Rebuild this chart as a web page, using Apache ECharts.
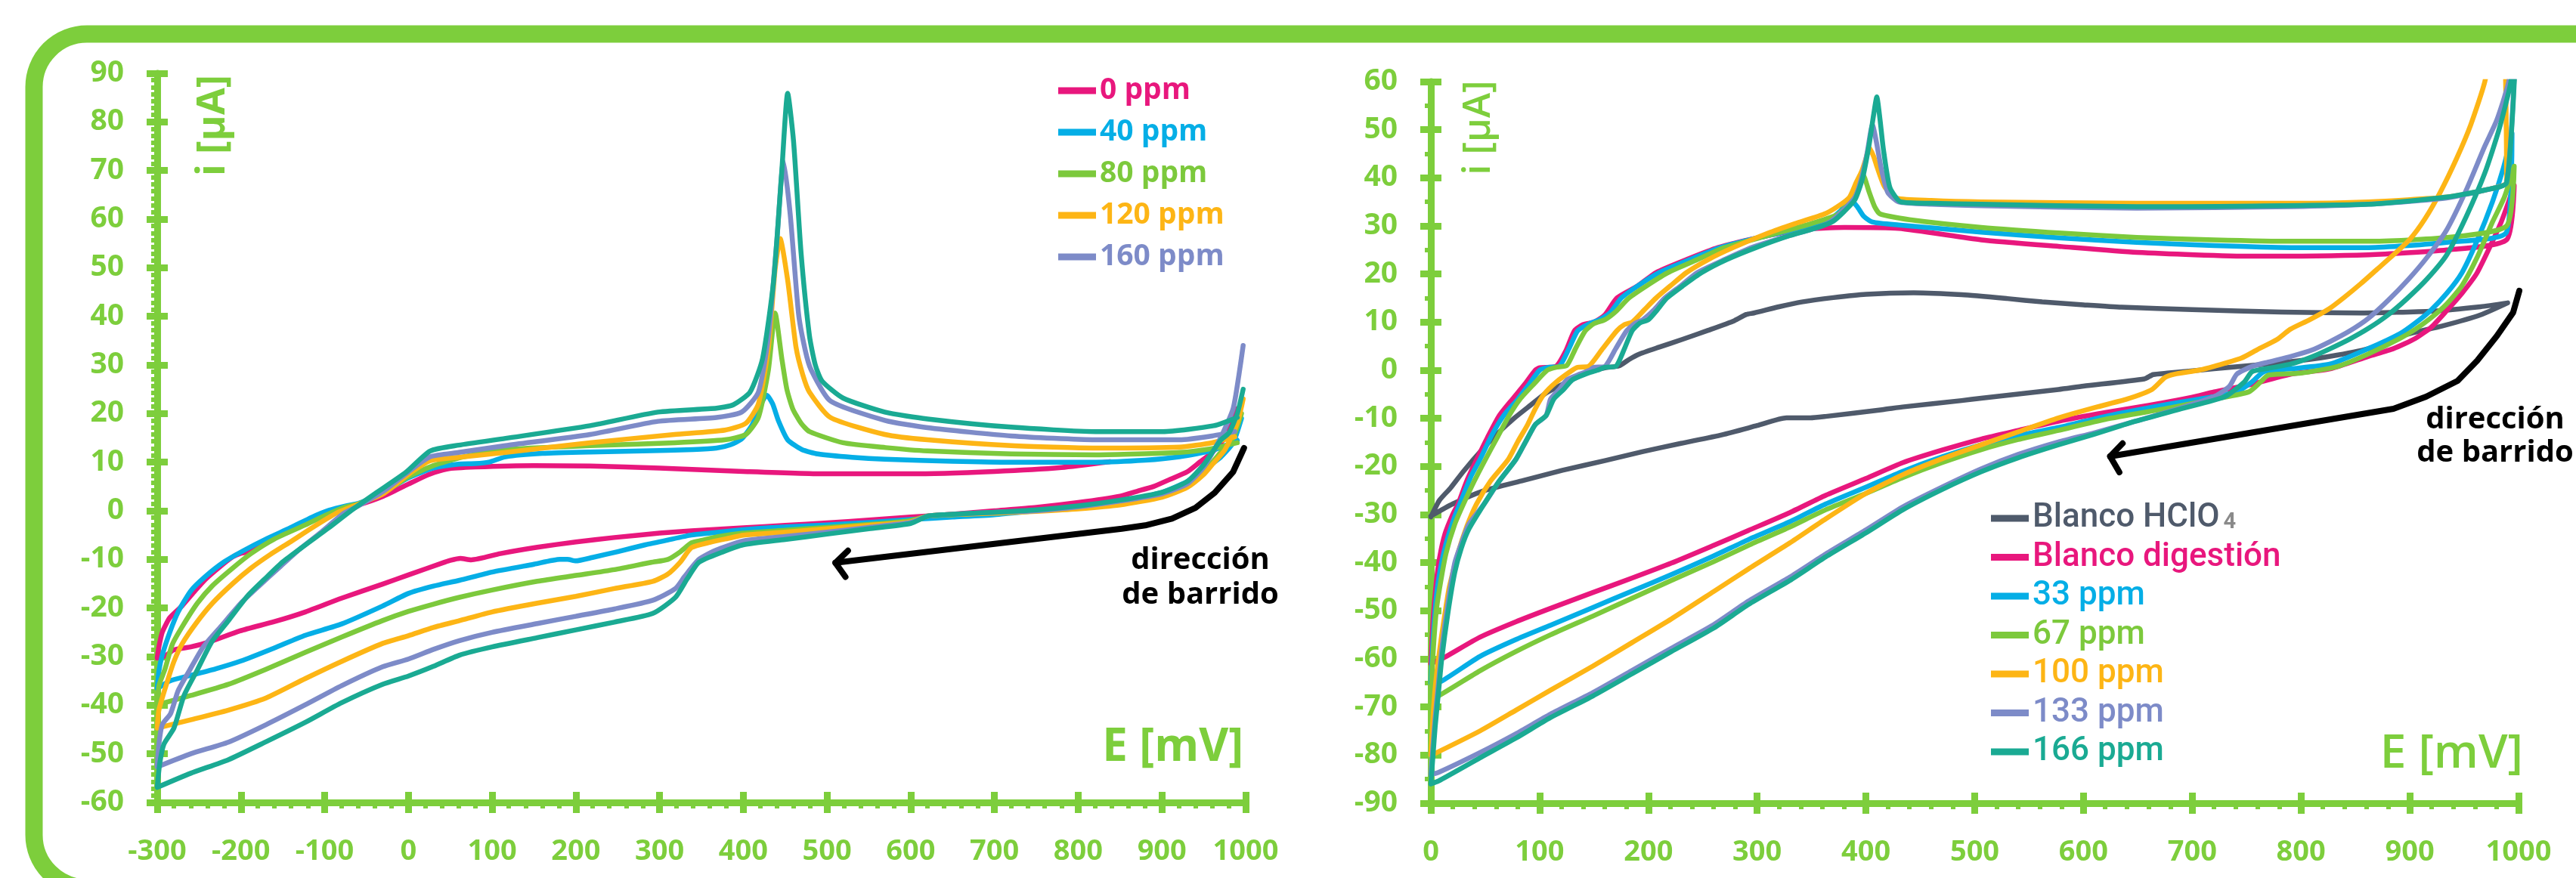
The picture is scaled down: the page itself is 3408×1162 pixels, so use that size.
<!DOCTYPE html>
<html>
<head>
<meta charset="utf-8">
<script src="https://cdn.jsdelivr.net/npm/echarts@6/dist/echarts.min.js"></script>
<style>
html, body { margin: 0; padding: 0; background: #fff; }
#main { width: 3408px; height: 1162px; }
</style>
</head>
<body>
<div id="main"></div>
<script>
// ---------- datos (E [mV], i [µA]) ----------
// grafico izquierdo: barrido inverso (1000 -> -300) y luego directo (-300 -> 1000)
const cv0ppm = [[990,21],[975,15],[960,12],[945,10],[930,8],[910,6.5],[890,5],[870,4],[850,3],[800,1.7],[750,0.7],[700,0],[650,-0.7],[600,-1.3],[550,-1.9],[500,-2.5],[450,-3],[400,-3.5],[338,-4.1],[300,-4.6],[246,-5.5],[200,-6.4],[154,-7.5],[110,-8.8],[75,-10.1],[62,-9.8],[50,-10.2],[43,-10.6],[0,-13.2],[-31,-15.1],[-80,-18],[-123,-20.8],[-160,-22.8],[-201,-24.7],[-238,-27],[-260,-28],[-280,-28.6],[-290,-29.8],[-300,-30.3],
  [-298,-28],[-294,-25],[-285,-22],[-270,-19.5],[-255,-16.5],[-243,-14.2],[-225,-11.5],[-210,-9.5],[-201,-8.8],[-190,-8.4],[-170,-6.5],[-141,-4.1],[-115,-2],[-90,-0.2],[-75,0.7],[-60,1.2],[-30,3],[0,5.5],[25,7.5],[46,8.6],[80,9],[150,9.3],[217,9.2],[300,8.8],[400,8.1],[500,7.6],[600,7.6],[700,8.1],[780,8.9],[838,10.1]];
const cv40ppm = [[995,19],[985,14],[970,11],[950,8.5],[930,6],[900,3.8],[870,2.6],[850,2],[800,0.8],[750,0],[700,-0.8],[650,-1.3],[600,-1.8],[550,-2.4],[500,-2.9],[430,-3.5],[400,-3.9],[360,-4.6],[338,-5],[310,-6],[283,-7],[250,-8.4],[220,-9.6],[200,-10.3],[190,-10],[181,-10],[150,-11],[100,-12.6],[61,-14.3],[30,-15.5],[0,-17],[-31,-19.6],[-80,-23.3],[-123,-25.6],[-160,-28.2],[-200,-30.9],[-230,-32.5],[-261,-33.9],[-285,-35],[-300,-36.6],
  [-298,-33],[-294,-29.7],[-285,-25],[-275,-20.8],[-260,-16.5],[-243,-13.6],[-220,-10.5],[-197,-8.2],[-170,-5.8],[-141,-3.5],[-115,-1.3],[-95,0.1],[-75,1],[-60,1.5],[-30,3.8],[0,6.8],[30,8.8],[60,9.6],[80,9.7],[96,10],[116,11.1],[160,11.8],[217,12.1],[280,12.3],[340,12.6],[368,12.9],[385,13.6],[398,14.8],[410,17.5],[420,21.5],[428,23.8],[435,22],[442,18.5],[453,14.6],[470,12.6],[489,11.7],[530,11],[569,10.6],[650,10.2],[720,10],[821,10],[880,10.4],[921,11.1],[960,12.4],[990,14.5]];
const cv80ppm = [[995,20],[985,15],[970,12],[950,8],[930,5.5],[900,3.3],[850,1.6],[800,0.6],[750,0],[700,-0.4],[640,-0.9],[620,-1.1],[600,-2],[550,-2.8],[500,-3.4],[450,-4],[400,-4.6],[370,-5.3],[350,-6.1],[338,-6.6],[325,-8.4],[310,-10],[290,-10.6],[246,-12.1],[200,-13.3],[154,-14.5],[100,-16.3],[61,-17.8],[30,-19.2],[0,-20.7],[-31,-22.6],[-80,-26],[-123,-29.1],[-170,-32.6],[-215,-35.7],[-260,-38],[-300,-39.9],
  [-298,-36],[-291,-32.7],[-282,-27.5],[-270,-23.8],[-252,-19],[-234,-15.4],[-210,-11.8],[-188,-8.8],[-160,-5.8],[-123,-2.9],[-100,-1],[-75,0.8],[-60,1.4],[-30,3.6],[0,7],[30,9.3],[66,11.1],[116,12.6],[217,13.4],[318,14],[378,14.6],[403,15.7],[418,19.2],[430,29],[438,40.7],[446,31.3],[452,25],[459,21],[469,18],[479,16.3],[519,14],[570,13],[620,12.3],[720,11.7],[821,11.5],[921,12],[960,12.8],[990,14]];
const cv120ppm = [[997,23],[990,18],[975,12.5],[960,9.5],[950,7.5],[930,4.8],[900,2.8],[850,1.2],[800,0.4],[750,-0.1],[700,-0.5],[640,-0.8],[620,-1.1],[600,-2.3],[550,-3],[500,-3.7],[450,-4.4],[400,-5],[384,-5.6],[360,-6.5],[338,-7.6],[325,-10.5],[310,-13],[292,-14.5],[246,-16],[200,-17.6],[154,-19],[100,-20.8],[61,-22.6],[30,-24],[0,-25.7],[-31,-27.3],[-80,-31],[-123,-34.5],[-170,-38.5],[-215,-41],[-260,-43],[-300,-44.7],
  [-298,-41],[-289,-35.7],[-280,-31],[-270,-27.3],[-253,-23],[-234,-19],[-210,-15],[-188,-11.8],[-165,-9],[-141,-6.4],[-115,-3.5],[-86,-0.5],[-65,1],[-30,3.5],[0,7.5],[26,10.3],[60,11],[116,12],[217,14],[318,15.7],[378,16.6],[403,18],[418,22],[430,33.6],[438,49.7],[444,56],[453,47.4],[463,33.6],[471,28],[479,24.4],[504,19.2],[569,15.7],[620,14.6],[720,13.4],[821,12.9],[921,13.1],[960,14],[987,15.2]];
const cv160ppm = [[997,34],[992,28],[985,21],[970,15],[950,9],[930,5.5],[900,3.5],[850,2],[800,0.8],[750,0],[700,-0.3],[640,-0.8],[620,-1.1],[600,-2.4],[550,-3.4],[500,-4.4],[450,-5.3],[400,-6.2],[366,-8.2],[347,-10],[330,-13.5],[319,-16],[292,-18.4],[246,-20.2],[200,-21.7],[154,-23.2],[100,-25],[61,-26.7],[30,-28.5],[0,-30.5],[-31,-32.1],[-80,-36],[-123,-39.9],[-170,-44],[-215,-47.6],[-260,-50],[-300,-52.7],
  [-298,-48],[-294,-44],[-284,-41.7],[-275,-37],[-261,-32.7],[-245,-28],[-224,-23.8],[-200,-19],[-178,-15.4],[-155,-11.8],[-132,-8.2],[-105,-4.5],[-77,-0.5],[-60,1],[-30,4],[0,8],[26,11.1],[60,12],[116,13.4],[217,15.7],[298,18.4],[368,19.2],[398,20.3],[418,24.4],[430,35.9],[440,55.4],[448,72],[456,61],[466,40.5],[474,33],[481,29],[504,22.6],[569,18.6],[620,17.1],[720,15.4],[821,14.6],[921,14.6],[960,15.4],[987,16.3]];
const cvSerie6 = [[997,25],[990,20],[980,16],[970,14.5],[950,9.5],[930,6],[900,3.8],[850,2.2],[800,1],[750,0.2],[700,-0.3],[640,-0.8],[620,-1.1],[600,-2.6],[550,-3.7],[500,-4.8],[450,-5.9],[400,-7],[375,-8.5],[347,-10.6],[333,-14],[319,-17.8],[292,-21.1],[246,-22.9],[200,-24.5],[154,-26.1],[100,-28],[61,-29.7],[30,-32],[0,-34],[-31,-35.7],[-80,-39.5],[-123,-43.5],[-170,-47.5],[-215,-51.2],[-260,-54],[-300,-56.9],
  [-297,-52],[-292,-48],[-280,-44.7],[-268,-38],[-252,-32.7],[-235,-27],[-215,-22.6],[-192,-17.5],[-169,-13.6],[-150,-10.5],[-140,-9.2],[-123,-7],[-95,-3.5],[-68,0.1],[-40,3.5],[-3,7.9],[26,12.3],[60,13.5],[116,14.9],[217,17.5],[298,20.3],[368,21.1],[388,21.8],[408,24.4],[423,31.3],[436,47],[446,70],[453,85.9],[460,76],[469,53],[479,36],[486,30],[494,26.7],[519,23.2],[569,20.3],[620,18.9],[720,17.2],[821,16.3],[901,16.3],[962,17.5],[990,19.2]];

// grafico derecho: barrido directo (0 -> 1000) y luego inverso (1000 -> 0)
const blancoHClO4 = [[0,-30.5],[8,-27],[18,-24.5],[30,-21],[48,-16.3],[62,-13],[77,-9.9],[92,-7.2],[106,-4.7],[125,-2.5],[143,-0.6],[160,0.5],[173,0.9],[182,2.2],[191,3.3],[210,4.8],[231,6.4],[255,8.3],[279,10.3],[290,11.6],[297,11.9],[320,13.2],[341,14.2],[370,15.1],[400,15.8],[444,16.1],[488,15.7],[530,14.9],[562,14.2],[600,13.6],[635,13.1],[700,12.6],[782,12.1],[855,11.9],[921,12.3],[965,13.2],[990,14],
  [965,11.5],[930,9.2],[891,7.1],[862,4.5],[827,2.9],[791,1.8],[720,0.3],[677,-0.6],[664,-0.9],[656,-1.8],[600,-3.3],[577,-4],[506,-5.8],[488,-6.3],[435,-7.6],[415,-8.2],[363,-9.6],[349,-9.9],[327,-9.9],[300,-11.5],[268,-13.4],[230,-15.2],[195,-16.9],[160,-18.8],[121,-20.8],[85,-22.9],[48,-25.1],[20,-27.8],[0,-30.3]];
const blancoDigestion = [[0,-61],[2,-52],[5,-44],[8,-39],[13,-34],[20,-30],[25,-27.8],[33,-23],[42,-18.6],[52,-14],[63,-9.4],[75,-6],[86,-3],[96,0],[100,0.5],[115,0.8],[124,4],[132,8.2],[140,9.5],[150,10],[160,11.5],[171,15],[190,17.5],[207,20.3],[235,23],[264,25.5],[300,27.5],[340,29.2],[380,29.7],[430,29.5],[506,27.1],[580,25.7],[649,24.5],[755,23.7],[862,24],[934,25],[989,27.1],
  [996,38.4],[984,30.8],[962,20.3],[948,16],[934,12.4],[920,9],[905,6.6],[885,4.5],[862,2.9],[827,0.3],[791,-0.8],[755,-2.9],[720,-4.5],[700,-5.6],[660,-7.3],[620,-8.8],[577,-10.6],[540,-12.5],[506,-14.3],[470,-16.6],[434,-19.2],[400,-22.5],[363,-26],[330,-29.6],[292,-33.3],[260,-36.4],[221,-40.1],[185,-43.2],[149,-46.2],[110,-49.5],[78,-52.3],[45,-55.5],[14,-59.5],[5,-60.5],[0,-61]];
const cv33ppm = [[0,-65],[2,-56],[5,-47],[9,-41],[14,-36],[21,-31],[28,-27],[37,-22],[45,-18.6],[56,-13.5],[67,-9.4],[80,-6],[90,-3],[100,0],[108,0.6],[118,0.8],[127,4.5],[135,8.2],[145,9.6],[155,10.5],[165,12],[175,15],[192,17.8],[210,20.3],[238,23],[266,25.5],[300,27.5],[340,29.5],[365,31],[376,33],[386,35.4],[392,34],[398,32],[406,30.8],[430,30.2],[506,28.7],[580,27.5],[649,26.6],[720,25.9],[791,25.5],[862,25.5],[934,26.6],[989,28.7],
  [994,49.2],[986,42],[976,35],[962,27],[948,20.3],[934,16],[919,12.4],[905,9.8],[891,7.6],[862,4.5],[827,1.3],[791,0.3],[766,-0.3],[755,-2.4],[741,-4.5],[720,-5.5],[680,-7],[620,-9.6],[577,-11.9],[540,-13.6],[506,-15.5],[470,-18],[434,-21],[400,-24.3],[363,-27.8],[330,-31.5],[292,-35.2],[260,-38.6],[221,-42.5],[185,-45.9],[149,-49.3],[110,-53],[78,-56],[45,-59.5],[10,-64.6],[0,-65]];
const cv67ppm = [[0,-68],[2,-59],[5,-50],[9,-44],[14,-38],[22,-32],[30,-27.8],[40,-23],[50,-18.6],[61,-14],[72,-9.4],[82,-6],[95,-2.8],[107,0],[115,0.6],[125,1],[133,4.5],[142,8.2],[150,9.7],[160,10.5],[170,12.2],[182,15],[200,17.8],[218,20.3],[245,23],[270,25.5],[310,28],[350,30.5],[375,32.5],[388,36],[397,40.8],[403,37],[408,34],[413,32.5],[440,31.3],[506,29.7],[580,28.5],[649,27.6],[720,27.1],[791,26.8],[862,26.8],[934,27.6],[989,30],
  [996,42.4],[987,36],[976,30.8],[962,23.5],[948,17.6],[934,13.8],[919,10.8],[905,8.5],[891,6.6],[862,3.4],[834,0.8],[800,-0.6],[770,-1],[763,-2.4],[752,-4.5],[720,-6],[680,-7.8],[620,-10.2],[577,-12.5],[540,-14.4],[506,-16.5],[470,-19.2],[434,-22.3],[400,-25.6],[363,-29],[330,-32.6],[292,-36.4],[260,-39.8],[221,-43.7],[185,-47.4],[149,-51.1],[110,-55],[78,-58.5],[45,-62.5],[7,-67.7],[0,-68]];
const cv100ppm = [[0,-80],[2,-72],[4,-66],[7,-60],[10,-55],[14,-49],[17,-45],[25,-38],[33,-32.5],[42,-27.8],[55,-23],[71,-18.6],[80,-14.8],[89,-11.3],[96,-8],[104,-5],[115,-2.5],[130,0],[135,0.6],[145,0.8],[158,4.5],[171,8.2],[178,9.5],[185,10],[196,12.5],[207,15],[220,17.5],[235,20.3],[255,23],[278,25.5],[310,28.5],[335,30.5],[363,32.6],[377,34.5],[385,36],[391,39],[396,41.3],[400,44],[403,46.3],[407,44.5],[410,42.4],[417,38.2],[428,35.8],[460,35.3],[506,35],[649,34.7],[791,34.7],[862,35],[934,36],[970,37.5],[989,39.2],
  [985,78],[969,60],[956,51],[943,44],[928,37],[914,31.5],[900,27.2],[885,24],[870,21],[855,18],[840,15.2],[826,12.8],[808,10.5],[790,8.5],[778,6.4],[760,4.3],[745,2.5],[720,0.8],[706,0],[684,-0.8],[675,-1.5],[663,-4],[640,-6],[613,-7.6],[577,-9.9],[540,-12.8],[506,-15.5],[470,-18.4],[434,-21.7],[400,-25.6],[363,-30.9],[330,-35.9],[292,-41.3],[260,-46],[221,-51.7],[185,-56.6],[149,-61.5],[110,-66.5],[78,-70.7],[45,-75],[7,-79.3],[0,-80]];
const cv133ppm = [[0,-84],[2,-78],[4,-72],[7,-65],[10,-58],[16,-48],[22,-40],[28,-36],[35,-32],[49,-27.8],[63,-23],[78,-18.6],[88,-14.5],[96,-11.3],[106,-9.4],[110,-6],[118,-4],[125,-2],[137,-0.8],[146,0],[150,0.6],[160,0.8],[170,4.5],[180,8.2],[188,9.8],[195,10.5],[205,12.5],[215,15],[230,17.6],[245,20.3],[270,23],[295,25.5],[330,28],[356,29.7],[368,31],[378,33],[390,36],[396,40],[401,45],[406,51],[410,47],[414,42],[420,37],[430,35],[460,34.5],[506,34.2],[649,33.7],[791,34],[862,34.5],[934,35.8],[970,37.5],[989,39],
  [998,72],[991,60],[980,52],[969,46.6],[952,37.5],[934,29.2],[916,23.5],[898,18.7],[880,14.5],[862,10.8],[845,8.2],[827,6],[810,4.2],[791,2.9],[770,1.7],[755,0.8],[741,-0.8],[734,-3.4],[720,-5.5],[690,-7.8],[648,-10.6],[610,-13],[577,-14.9],[540,-17.5],[506,-20.5],[470,-24.3],[434,-28.4],[400,-33.2],[363,-38.2],[330,-43],[292,-48],[260,-52.9],[221,-57.8],[185,-62.4],[149,-67],[110,-71.5],[78,-75.6],[45,-79.5],[7,-83.6],[0,-84]];
const cv166ppm = [[0,-86],[2,-80],[4,-74],[7,-67],[10,-60],[16,-50],[22,-42],[28,-37],[35,-33],[49,-27.8],[63,-23],[78,-18.6],[88,-14.5],[96,-11.3],[106,-9.4],[113,-6],[122,-4],[130,-2],[142,-0.8],[153,0],[160,0.6],[170,0.8],[178,4.5],[185,8.2],[192,9.8],[200,10.5],[208,12.5],[217,15],[232,17.6],[249,20.3],[272,23],[299,25.5],[330,28],[356,29.7],[370,31],[380,33],[390,35.5],[397,40],[403,47],[407,53],[410,56.8],[413,52],[416,46],[422,38],[432,35],[460,34.7],[506,34.5],[649,34],[862,34.5],[934,36],[970,37.5],[989,39],
  [998,70],[993,60],[982,50],[969,41],[952,32],[934,24],[916,19],[898,15],[880,11.5],[862,8.7],[845,6.5],[827,4.5],[810,2.8],[791,1.3],[770,0.4],[755,-0.3],[748,-2.4],[730,-5.5],[690,-8],[648,-10.6],[610,-13.3],[577,-15.5],[540,-18.2],[506,-21.1],[470,-24.8],[434,-29],[400,-33.8],[363,-38.8],[330,-43.7],[292,-48.7],[260,-53.6],[221,-58.5],[185,-63.1],[149,-67.7],[110,-72.2],[78,-76.5],[45,-80.6],[7,-85.4],[0,-86]];

const leftNames = ['0 ppm', '40 ppm', '80 ppm', '120 ppm', '160 ppm'];
const rightNames = ['Blanco HClO4', 'Blanco digestión', '33 ppm', '67 ppm', '100 ppm', '133 ppm', '166 ppm'];

// flecha "dirección de barrido" en coordenadas de datos
const arrowLeft = [[998,12.9],[985,8],[963,3.7],[940,0.6],[912,-1.6],[880,-3],[852,-3.7],[510,-10.7]];
const headLeft = [[525,-8.2],[510,-10.7],[522,-13.6]];
const arrowRight = [[1000.7,16.5],[995,12],[980,7.1],[962,2],[944,-2.2],[915,-5.5],[885,-8],[624.5,-17.9]];
const headRight = [[636,-15.2],[624.5,-17.9],[633,-21.2]];

// ---------- estilo ----------
const GREEN = '#7dce3c';
const PINK = '#e8177d', BLUE = '#05aee6', LGREEN = '#7cc93c', ORANGE = '#fdb515',
      LAV = '#7d8bc8', TEAL = '#1aaa93', GREY = '#4f5a6b';
const FONT = '"Open Sans", sans-serif';

let chart = echarts.init(document.getElementById('main'));

function xAx(grid, min, max, overlay) {
    return {
        type: 'value', gridIndex: grid, min: min, max: max, interval: 100, position: 'bottom',
        axisLine: { show: !overlay, onZero: false, lineStyle: { color: GREEN, width: 9 } },
        axisTick: { show: true, inside: overlay, length: 14, lineStyle: { color: GREEN, width: 9 } },
        minorTick: { show: !overlay, splitNumber: 5, length: 8, lineStyle: { color: GREEN, width: 6 } },
        axisLabel: { show: !overlay, color: GREEN, fontSize: 38, fontWeight: 'bold', fontFamily: FONT, margin: 46,
                     formatter: v => String(v) },
        splitLine: { show: false }, minorSplitLine: { show: false }
    };
}
function yAx(grid, min, max, minorSplit, overlay) {
    return {
        type: 'value', gridIndex: grid, min: min, max: max, interval: 10, position: 'left',
        axisLine: { show: !overlay, onZero: false, lineStyle: { color: GREEN, width: 9 } },
        axisTick: { show: true, inside: overlay, length: 14, lineStyle: { color: GREEN, width: 9 } },
        minorTick: { show: !overlay, splitNumber: minorSplit, length: 8, lineStyle: { color: GREEN, width: 6 } },
        axisLabel: { show: !overlay, color: GREEN, fontSize: 39, fontWeight: 'bold', fontFamily: FONT, margin: 44,
                     formatter: v => String(v) },
        splitLine: { show: false }, minorSplitLine: { show: false }
    };
}
function serie(name, data, color, idx) {
    return {
        name: name, type: 'line', data: data, xAxisIndex: idx, yAxisIndex: idx,
        showSymbol: false, symbol: 'none', smooth: 0.2, clip: true,
        lineStyle: { color: color, width: 6.5, cap: 'round', join: 'round' },
        itemStyle: { color: color }
    };
}

let option = {
    animation: false,
    backgroundColor: '#fff',
    grid: [
        { left: 208, top: 97, width: 1440, height: 965 },
        { left: 1893, top: 108, width: 1439, height: 955 }
    ],
    xAxis: [xAx(0, -300, 1000, false), xAx(0, -300, 1000, true), xAx(1, 0, 1000, false), xAx(1, 0, 1000, true)],
    yAxis: [yAx(0, -60, 90, 7, false), yAx(0, -60, 90, 7, true), yAx(1, -90, 60, 2, false), yAx(1, -90, 60, 2, true)],
    legend: [
        {
            orient: 'vertical', left: 1400, top: 96, padding: 0, itemGap: 7, itemWidth: 50, itemHeight: 9,
            icon: 'rect', selectedMode: false,
            textStyle: { fontSize: 39, fontWeight: 'bold', fontFamily: FONT, lineHeight: 48 },
            data: leftNames.map((n, i) => ({ name: n, textStyle: { color: [PINK, BLUE, LGREEN, ORANGE, LAV][i] } }))
        },
        {
            orient: 'vertical', left: 2634, top: 663, padding: 0, itemGap: 5.5, itemWidth: 50, itemHeight: 9,
            icon: 'rect', selectedMode: false,
            formatter: n => n === 'Blanco HClO4' ? 'Blanco HClO{s|4}' : n,
            textStyle: {
                fontSize: 44, fontWeight: 500, fontFamily: 'Roboto, sans-serif', lineHeight: 46,
                rich: { s: { fontSize: 29, fontWeight: 'bold', color: '#8a8a8a', fontFamily: 'Roboto, sans-serif', padding: [12, 0, 0, 5] } }
            },
            data: rightNames.map((n, i) => ({ name: n, textStyle: { color: [GREY, PINK, BLUE, LGREEN, ORANGE, LAV, TEAL][i] } }))
        }
    ],
    series: [
        serie('0 ppm', cv0ppm, PINK, 0),
        serie('40 ppm', cv40ppm, BLUE, 0),
        serie('80 ppm', cv80ppm, LGREEN, 0),
        serie('120 ppm', cv120ppm, ORANGE, 0),
        serie('160 ppm', cv160ppm, LAV, 0),
        serie('Serie 6', cvSerie6, TEAL, 0),
        serie('Blanco HClO4', blancoHClO4, GREY, 2),
        serie('Blanco digestión', blancoDigestion, PINK, 2),
        serie('33 ppm', cv33ppm, BLUE, 2),
        serie('67 ppm', cv67ppm, LGREEN, 2),
        serie('100 ppm', cv100ppm, ORANGE, 2),
        serie('133 ppm', cv133ppm, LAV, 2),
        serie('166 ppm', cv166ppm, TEAL, 2)
    ]
};
chart.setOption(option);

// ---------- marco, titulos de ejes y flechas ----------
function px(idx, pts) {
    return pts.map(p => chart.convertToPixel({ xAxisIndex: idx, yAxisIndex: idx }, p));
}
function txt(text, x, y, size, weight, color, align, rot, family) {
    return {
        type: 'text', x: x, y: y, rotation: rot || 0, z: 10,
        style: { text: text, fill: color, fontSize: size, fontWeight: weight, fontFamily: family || FONT,
                 align: align || 'center', verticalAlign: 'middle' }
    };
}
function line(points) {
    return { type: 'polyline', z: 10, shape: { points: points },
             style: { stroke: '#000', lineWidth: 8, fill: null, lineCap: 'round', lineJoin: 'round' } };
}

chart.setOption({
    graphic: [
        { type: 'rect', z: 0, shape: { x: 45, y: 45, width: 3500, height: 1130, r: 70 },
          style: { fill: null, stroke: GREEN, lineWidth: 23 } },
        txt('i [µA]', 282, 166, 52, 'bold', GREEN, 'center', Math.PI / 2),
        txt('i [µA]', 1957, 169, 50, 600, GREEN, 'center', Math.PI / 2),
        txt('E [mV]', 1645, 990, 60, 'bold', GREEN, 'right'),
        txt('E [mV]', 3338, 998, 62, 600, GREEN, 'right'),
        txt('dirección', 1588, 742, 40, 'bold', '#000'),
        txt('de barrido', 1588, 788, 40, 'bold', '#000'),
        txt('dirección', 3301, 556, 40, 'bold', '#000'),
        txt('de barrido', 3301, 600, 40, 'bold', '#000'),
        line(px(0, arrowLeft)),
        line(px(0, headLeft)),
        line(px(2, arrowRight)),
        line(px(2, headRight))
    ]
});
</script>
</body>
</html>
